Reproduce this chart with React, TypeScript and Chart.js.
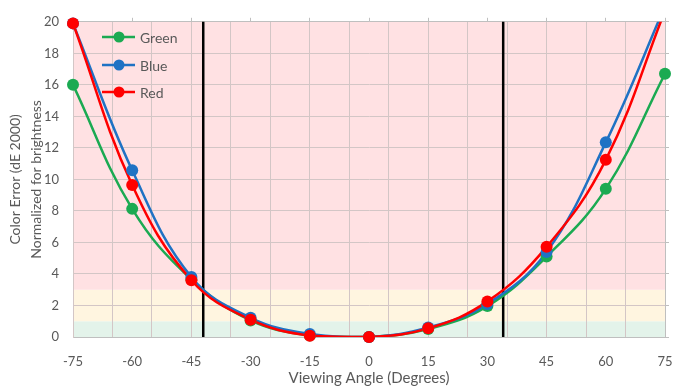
import React, { useEffect, useRef } from "react";
import { Chart, registerables } from "chart.js";

Chart.register(...registerables);

const angles = [-75, -60, -45, -30, -15, 0, 15, 30, 45, 60, 75];
const greenValues = [16.0, 8.13, 3.65, 1.05, 0.1, 0, 0.5, 1.96, 5.1, 9.4, 16.7];
const blueValues = [19.9, 10.58, 3.8, 1.22, 0.19, 0, 0.6, 2.1, 5.4, 12.35, 21.0];
const redValues = [19.9, 9.64, 3.6, 1.1, 0.08, 0, 0.55, 2.26, 5.72, 11.24, 20.7];
const seriesNames = ["Green", "Blue", "Red"];
const seriesColors = ["#1BAA52", "#1F72C4", "#FF0000"];
const markerAngles = [-42, 34];
const bands = [
  { from: 0, to: 1, color: "#E3F3EA" },
  { from: 1, to: 3, color: "#FFF5E0" },
  { from: 3, to: 20, color: "#FFE1E3" },
];
const xTitle = "Viewing Angle (Degrees)";
const yTitle = ["Color Error (dE 2000)", "Normalized for brightness"];

const FONT = "Lato";
const TEXT = "#595959";
const GRID = "#D3C6C6";
const AXIS = "#BFBFBF";

const bandsPlugin = {
  id: "bands",
  beforeDraw(chart: any) {
    const { ctx, chartArea, scales } = chart;
    const y = scales.y;
    ctx.save();
    for (const b of bands) {
      const top = y.getPixelForValue(b.to);
      const bot = y.getPixelForValue(b.from);
      ctx.fillStyle = b.color;
      ctx.fillRect(chartArea.left, top, chartArea.right - chartArea.left, bot - top);
    }
    ctx.restore();
  },
  beforeDatasetsDraw(chart: any) {
    const { ctx, chartArea, scales } = chart;
    ctx.save();
    ctx.strokeStyle = "#000000";
    ctx.lineWidth = 2.5;
    for (const a of markerAngles) {
      const x = scales.x.getPixelForValue(a);
      ctx.beginPath();
      ctx.moveTo(x, chartArea.top);
      ctx.lineTo(x, chartArea.bottom);
      ctx.stroke();
    }
    ctx.restore();
  },
  afterDatasetsDraw(chart: any) {
    const { ctx } = chart;
    ctx.save();
    const x0 = 102;
    const rows = [37, 65, 92];
    seriesNames.forEach((name, i) => {
      const yy = rows[i];
      ctx.strokeStyle = seriesColors[i];
      ctx.lineWidth = 2.5;
      ctx.beginPath();
      ctx.moveTo(x0, yy);
      ctx.lineTo(x0 + 33, yy);
      ctx.stroke();
      ctx.fillStyle = seriesColors[i];
      ctx.beginPath();
      ctx.arc(x0 + 17, yy, 5.5, 0, Math.PI * 2);
      ctx.fill();
      ctx.fillStyle = TEXT;
      ctx.font = `14px ${FONT}`;
      ctx.textBaseline = "middle";
      ctx.textAlign = "left";
      ctx.fillText(name, x0 + 38, yy + 1);
    });
    ctx.restore();
  },
};

export default function App() {
  const ref = useRef<HTMLCanvasElement>(null);
  useEffect(() => {
    if (!ref.current) return;
    const series = [greenValues, blueValues, redValues];
    const toPts = (vals: number[]) => angles.map((a, i) => ({ x: a, y: vals[i] }));
    const lineSets = series.map((vals, i) => ({
      label: seriesNames[i],
      data: toPts(vals),
      borderColor: seriesColors[i],
      backgroundColor: seriesColors[i],
      borderWidth: 2.5,
      pointRadius: 0,
      tension: 0.4,
      showLine: true,
      order: 5 - i,
    }));
    const pointSets = series.map((vals, i) => ({
      label: seriesNames[i] + " points",
      data: toPts(vals),
      borderColor: seriesColors[i],
      backgroundColor: seriesColors[i],
      borderWidth: 0,
      pointRadius: (c: any) => (c.raw && c.raw.y > 20 ? 0 : 6),
      pointHoverRadius: 6,
      showLine: false,
      clip: false as any,
      order: 2 - i,
    }));
    const chart = new Chart(ref.current, {
      type: "scatter",
      data: { datasets: [...lineSets, ...pointSets] as any },
      plugins: [bandsPlugin],
      options: {
        responsive: false,
        animation: false,
        layout: { padding: 0 },
        plugins: { legend: { display: false }, tooltip: { enabled: false } },
        scales: {
          x: {
            type: "linear",
            position: "bottom",
            min: -75,
            max: 75,
            afterFit: (s: any) => { s.height = 53; },
            afterBuildTicks: (s: any) => {
              const t = [];
              for (let v = -75; v <= 75; v += 5) t.push({ value: v });
              s.ticks = t;
            },
            ticks: {
              autoSkip: false,
              maxRotation: 0,
              padding: 17,
              color: TEXT,
              font: { family: FONT, size: 13 },
              callback: (v: any) => (Number(v) % 15 === 0 ? String(v) : ""),
            },
            grid: {
              drawTicks: false,
              lineWidth: 1,
              color: (c: any) => (((c.tick?.value ?? 0) + 75) % 10 === 0 ? GRID : "rgba(0,0,0,0)"),
            },
            border: { display: true, color: AXIS, width: 1 },
            title: {
              display: true,
              text: xTitle,
              color: TEXT,
              font: { family: FONT, size: 15 },
              padding: { top: 0, bottom: 3 },
            },
          },
          x2: {
            type: "linear",
            position: "top",
            min: -75,
            max: 75,
            afterFit: (s: any) => { s.height = 18; },
            ticks: { stepSize: 15, callback: () => "", font: { size: 1 } },
            grid: { drawOnChartArea: false, drawTicks: true, tickLength: 4, color: AXIS },
            border: { display: true, color: AXIS },
          },
          y: {
            type: "linear",
            position: "left",
            min: 0,
            max: 20,
            afterFit: (s: any) => { s.width = 73; },
            ticks: {
              stepSize: 2,
              padding: 14,
              color: TEXT,
              font: { family: FONT, size: 13 },
            },
            grid: { drawTicks: false, color: GRID },
            border: { display: true, color: GRID },
            title: {
              display: true,
              text: yTitle,
              color: TEXT,
              font: { family: FONT, size: 14, lineHeight: 1.5 },
              padding: { top: 4.5, bottom: 0 },
            },
          },
          y2: {
            type: "linear",
            position: "right",
            min: 0,
            max: 20,
            afterFit: (s: any) => { s.width = 26; },
            ticks: { stepSize: 2, callback: () => "", font: { size: 1 } },
            grid: { drawOnChartArea: false, drawTicks: true, tickLength: 4, color: AXIS },
            border: { display: true, color: AXIS },
          },
        },
      },
    });
    return () => chart.destroy();
  }, []);
  return (
    <div style={{ position: "absolute", left: 0, top: 0, width: 691, height: 390, background: "#fff" }}>
      <canvas ref={ref} width={691} height={390} style={{ display: "block" }} />
    </div>
  );
}
